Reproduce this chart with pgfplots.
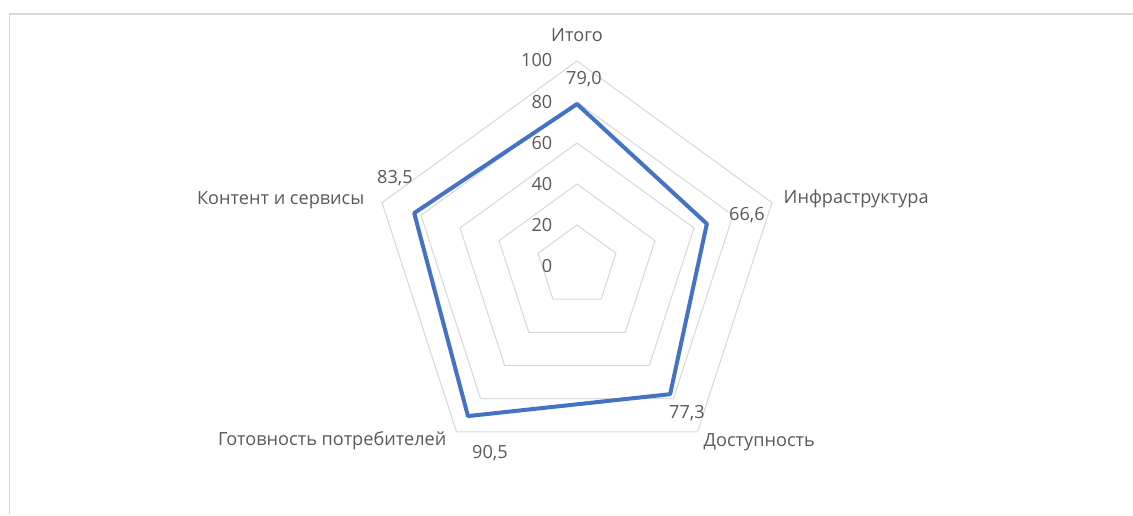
\documentclass[border=0pt]{standalone}
\usepackage{pgfplots}
\pgfplotsset{compat=1.18}
\usepackage{fontspec}
\setmainfont{Open Sans}
\definecolor{txt}{HTML}{595959}
\definecolor{gridc}{HTML}{D9D9D9}
\definecolor{ser}{HTML}{4472C4}
\begin{document}
\begin{tikzpicture}[x=0.75pt,y=0.75pt,font=\fontsize{13.6}{15}\selectfont]
\path[use as bounding box] (0,0) rectangle (1133,515);
% chart frame
\draw[gridc,line width=1.2pt] (9.5,0) -- (9.5,501) -- (1133,501);
\begin{axis}[
  at={(432.75pt,186.75pt)}, anchor=origin,
  x=1.5375pt, y=1.5375pt,
  xmin=-110, xmax=110, ymin=-110, ymax=110,
  hide axis, clip=false,
  every axis plot/.append style={data cs=polar, mark=none},
]
% pentagon grid
\foreach \r in {20,40,60,80,100} {
  \edef\temp{\noexpand\addplot[gridc, line width=0.8pt, line join=miter]
    coordinates {(90,\r) (18,\r) (-54,\r) (-126,\r) (162,\r)} -- cycle;}
  \temp
}
% series
\addplot[ser, line width=3pt, line join=round]
  coordinates {(90,79.0) (18,66.6) (-54,77.3) (-126,90.5) (162,83.5)} -- cycle;
\end{axis}
% category labels
\begin{scope}[txt]
\node at (577,480) {Итого};
\node[anchor=west] at (779,316) {Инфраструктура};
\node[anchor=west] at (699,73) {Доступность};
\node[anchor=east] at (451,74) {Готовность потребителей};
\node[anchor=east] at (369,315) {Контент и сервисы};
% radial tick labels
\node[anchor=east] at (557,249) {0};
\node[anchor=east] at (557,290) {20};
\node[anchor=east] at (557,331) {40};
\node[anchor=east] at (557,372) {60};
\node[anchor=east] at (557,413) {80};
\node[anchor=east] at (557,455) {100};
% data labels
\node at (584,436) {79,0};
\node at (747,300) {66,6};
\node at (687,102) {77,3};
\node at (490,62) {90,5};
\node at (395,337) {83,5};
\end{scope}
\end{tikzpicture}
\end{document}
